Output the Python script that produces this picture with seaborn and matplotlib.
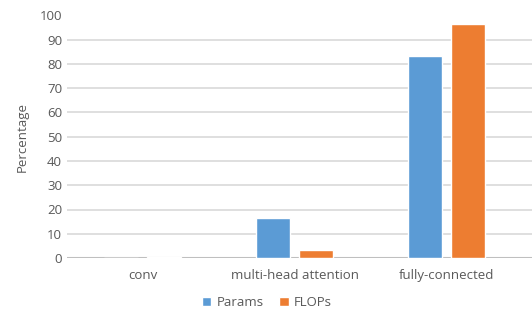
import seaborn as sns
import matplotlib.pyplot as plt
import pandas as pd

# chart values
categories = ['conv', 'multi-head attention', 'fully-connected']
params = [0.02, 16.7, 83.3]
flops = [0.3, 3.3, 96.5]
yticks = [0, 10, 20, 30, 40, 50, 60, 70, 80, 90, 100]

df = pd.DataFrame({
    'Layer': categories * 2,
    'Percentage': params + flops,
    'Metric': ['Params'] * 3 + ['FLOPs'] * 3,
})

sns.set_style('white')
plt.rcParams['font.family'] = ['Open Sans', 'DejaVu Sans']

fig = plt.figure(figsize=(5.32, 3.12), dpi=100)
ax = fig.add_axes([67 / 532, 1 - 258 / 312, 1 - 67 / 532, (258 - 15.5) / 312])

sns.barplot(data=df, x='Layer', y='Percentage', hue='Metric',
            palette=['#5B9BD5', '#ED7D31'], saturation=1,
            width=0.566, gap=0.21, ax=ax, zorder=3)

ax.set_ylim(0, 100)
ax.set_xlim(-0.5, 2.56)
ax.set_yticks(yticks)
ax.yaxis.grid(True, color='#D9D9D9', linewidth=1.2, zorder=0)
ax.axhline(0, color='#BFBFBF', linewidth=1.5, zorder=2)
for s in ax.spines.values():
    s.set_visible(False)
ax.tick_params(axis='both', length=0, colors='#595959', labelsize=9.5)
ax.tick_params(axis='x', pad=8)
ax.set_xlabel('')
ax.set_ylabel('Percentage', color='#595959', fontsize=9.5, labelpad=8)

handles, labels = ax.get_legend_handles_labels()
ax.legend(handles, labels, loc='lower center', bbox_to_anchor=(0.43, -0.245),
          ncol=2, frameon=False, fontsize=9.5, handlelength=0.7, handleheight=0.7,
          columnspacing=1.2, handletextpad=0.4, labelcolor='#595959',
          borderpad=0.1)

plt.savefig('out.png', dpi=100)
